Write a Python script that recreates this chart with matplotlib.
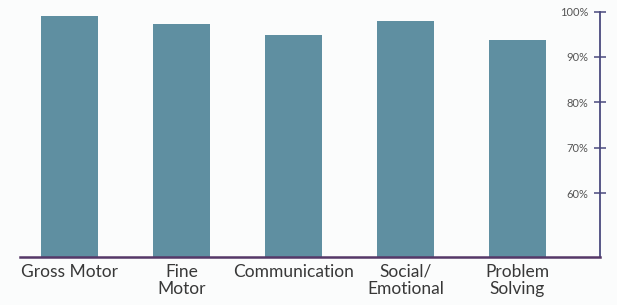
import matplotlib
matplotlib.use("Agg")
import matplotlib.pyplot as plt

categories = ["Gross Motor", "Fine\nMotor", "Communication", "Social/\nEmotional", "Problem\nSolving"]
values = [99.0, 97.2, 94.8, 97.9, 93.8]
ytick_values = [60, 70, 80, 90, 100]
ytick_labels = ["60%", "70%", "80%", "90%", "100%"]

plt.rcParams['font.family'] = ['Lato', 'DejaVu Sans']

fig = plt.figure(figsize=(6.17, 3.05), dpi=100, facecolor='#fbfcfc')
ax = fig.add_axes([20/617, 48/305, 580/617, (257-11.5)/305])
ax.set_facecolor('#fbfcfc')

x = list(range(len(categories)))
ax.bar(x, values, width=0.51, color='#5f8fa1', zorder=2)

ax.set_xlim(-0.442, 4.737)
ax.set_ylim(46, 100)

for s in ['top', 'left']:
    ax.spines[s].set_visible(False)
ax.spines['right'].set_color('#4a4a7e')
ax.spines['right'].set_linewidth(1.3)
ax.spines['bottom'].set_color('#553868')
ax.spines['bottom'].set_linewidth(1.8)

ax.yaxis.tick_right()
ax.set_yticks(ytick_values)
ax.set_yticklabels(ytick_labels)
ax.tick_params(axis='y', direction='inout', length=9, width=1.1, color='#4a4a7e',
               pad=-13, labelsize=8, labelcolor='#555555')
for lab in ax.get_yticklabels():
    lab.set_ha('right')

ax.set_xticks(x)
ax.set_xticklabels(categories, linespacing=1.1)
ax.tick_params(axis='x', length=0, pad=5, labelsize=12.5, labelcolor='#383838')
for lab in ax.get_xticklabels():
    lab.set_va('top')

fig.savefig("out.png", dpi=100, facecolor=fig.get_facecolor())
